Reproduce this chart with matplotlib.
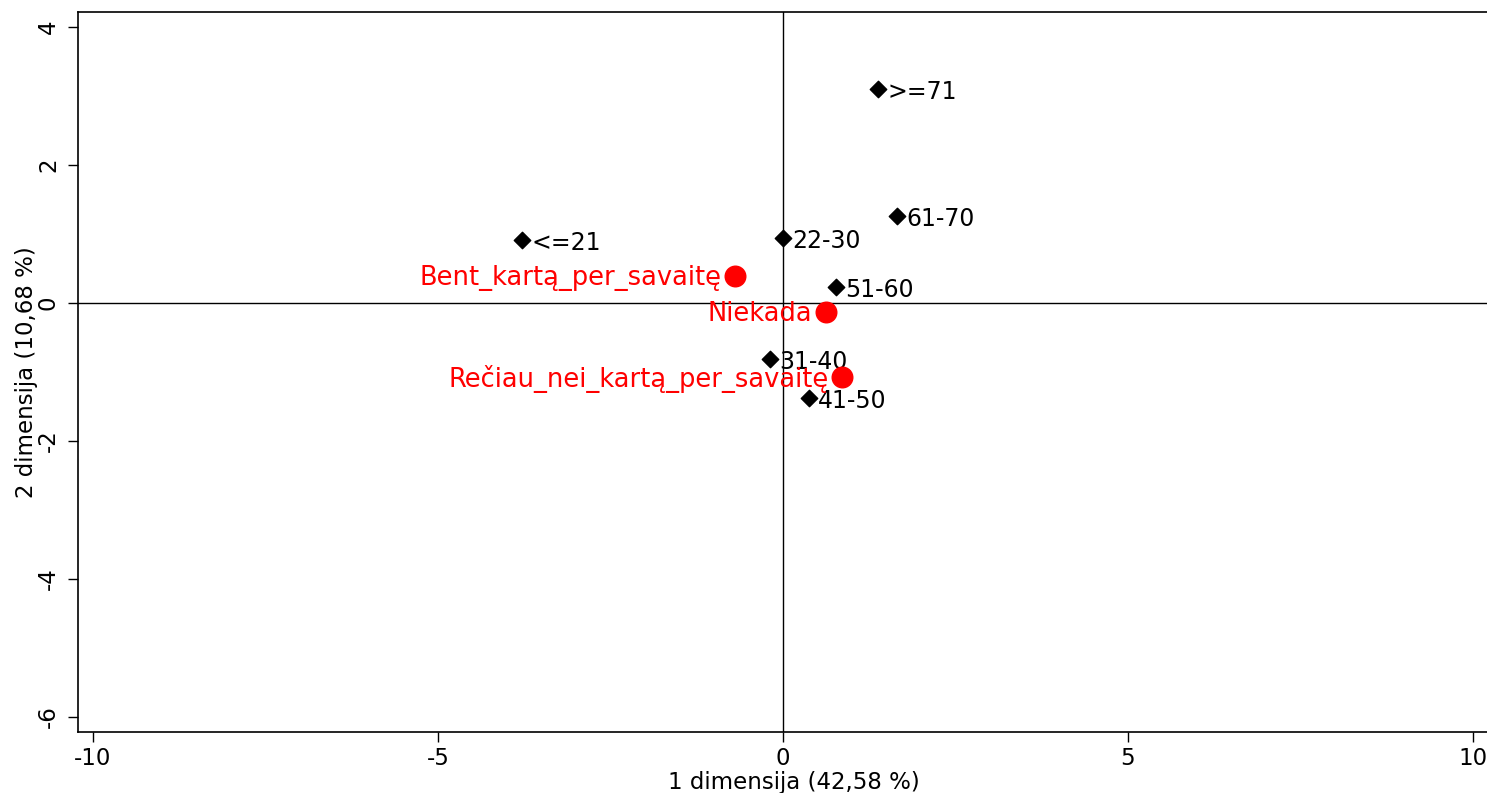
import matplotlib
matplotlib.use("Agg")
import matplotlib.pyplot as plt

age_labels = ["<=21", "22-30", "31-40", "41-50", "51-60", "61-70", ">=71"]
age_x = [-3.78, 0.0, -0.19, 0.38, 0.77, 1.65, 1.38]
age_y = [0.91, 0.94, -0.81, -1.38, 0.23, 1.26, 3.10]

freq_labels = ["Bent_kartą_per_savaitę", "Niekada", "Rečiau_nei_kartą_per_savaitę"]
freq_x = [-0.70, 0.62, 0.86]
freq_y = [0.39, -0.13, -1.07]

xticks = [-10, -5, 0, 5, 10]
yticks = [-6, -4, -2, 0, 2, 4]

plt.rcParams['font.family'] = ['DejaVu Sans']
W, H = 1487, 793
fig = plt.figure(figsize=(W / 100, H / 100), dpi=100)
left_px, right_px, top_px, bot_px = 78, 1510, 12, 732
ax = fig.add_axes([left_px / W, 1 - bot_px / H, (right_px - left_px) / W, (bot_px - top_px) / H])

ppu = 69.0
ax.set_xlim(-10 - (93 - left_px) / ppu, -10 + (right_px - 93) / ppu)
ax.set_ylim(-(bot_px - 303) / ppu, (303 - top_px) / ppu)

ax.axhline(0, color='black', lw=1)
ax.axvline(0, color='black', lw=1)

ax.scatter(age_x, age_y, marker='D', s=70, color='black', zorder=3)
for lab, x, y in zip(age_labels, age_x, age_y):
    ax.annotate(lab, (x, y), xytext=(6.5, -2), textcoords='offset points',
                ha='left', va='center', fontsize=17, color='black')

ax.scatter(freq_x, freq_y, marker='o', s=220, color='red', zorder=3)
for lab, x, y in zip(freq_labels, freq_x, freq_y):
    ax.annotate(lab, (x, y), xytext=(-9.5, -1.5), textcoords='offset points',
                ha='right', va='center', fontsize=18.5, color='red')

ax.set_xticks(xticks)
ax.set_xticklabels([str(t) for t in xticks])
ax.set_yticks(yticks)
ax.set_yticklabels([str(t) for t in yticks], rotation=90, va='center')
ax.tick_params(axis='both', direction='out', length=7, labelsize=16.5, width=1)
ax.tick_params(axis='y', pad=6)

ax.set_xlabel("1 dimensija (42,58 %)", fontsize=16.5, labelpad=1)
ax.set_ylabel("2 dimensija (10,68 %)", fontsize=16.5, labelpad=-1)

for s in ax.spines.values():
    s.set_linewidth(1.2)
ax.spines['right'].set_visible(False)

fig.savefig("out.png", dpi=100)
